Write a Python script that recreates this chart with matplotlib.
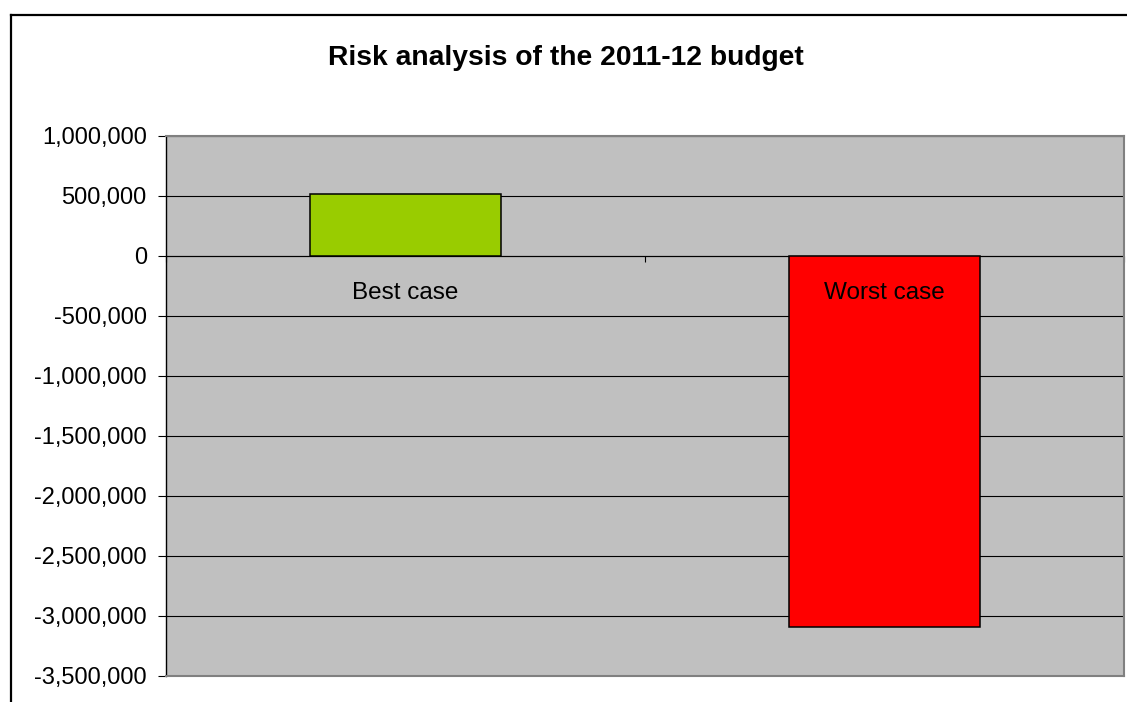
import matplotlib.pyplot as plt
from matplotlib.lines import Line2D, TICKDOWN
from matplotlib.ticker import FuncFormatter, MultipleLocator

plt.rcParams['font.family'] = ['Liberation Sans', 'DejaVu Sans']

# Budget scenarios
categories = ['Best case', 'Worst case']
values = [515000, -3095000]
bar_colors = ['#99CC00', '#FF0000']
y_min, y_max, y_step = -3500000, 1000000, 500000

fig = plt.figure(figsize=(11.27, 7.02), dpi=100)
ax = fig.add_axes([166 / 1127, 1 - 676 / 702, (1124 - 166) / 1127, (676 - 136) / 702])
ax.set_facecolor('#C0C0C0')

x = list(range(len(categories)))
ax.bar(x, values, width=0.4, color=bar_colors, edgecolor='black', linewidth=1.1, zorder=3)

ax.set_xlim(-0.5, len(categories) - 0.5)
ax.set_ylim(y_min, y_max)
ax.yaxis.set_major_locator(MultipleLocator(y_step))
ax.yaxis.set_major_formatter(FuncFormatter(lambda v, p: f'{int(v):,}'))
ax.grid(axis='y', color='black', linewidth=0.8, zorder=1)
ax.set_axisbelow(True)
ax.tick_params(axis='y', direction='out', length=5.8, width=0.8, pad=8, labelsize=17)

# category axis sits on zero, labels drawn just under it
ax.set_xticks([])
ax.axhline(0, color='black', linewidth=0.8, zorder=2)
bounds = [i - 0.5 for i in range(len(categories) + 1)]
ax.plot(bounds, [0] * len(bounds), linestyle='none', marker=TICKDOWN, markersize=4.5,
        color='black', markeredgewidth=0.8, clip_on=False, zorder=2)
for i, name in enumerate(categories):
    ax.annotate(name, (i, 0), xytext=(0, -31), textcoords='offset points',
                ha='center', va='baseline', fontsize=17.5, zorder=4)

for side in ['top', 'right', 'bottom']:
    ax.spines[side].set_color('#808080')
    ax.spines[side].set_linewidth(1.5)
ax.spines['left'].set_color('black')
ax.spines['left'].set_linewidth(1)

fig.text(566 / 1127, 1 - 58 / 702, 'Risk analysis of the 2011-12 budget',
         ha='center', va='center', fontsize=20.3, fontweight='bold')

# chart frame, open at the right and bottom edges
fig.add_artist(Line2D([11 / 1127, 11 / 1127], [0, 1 - 15 / 702], color='black',
                      linewidth=1.6, transform=fig.transFigure))
fig.add_artist(Line2D([11 / 1127, 1], [1 - 15 / 702, 1 - 15 / 702], color='black',
                      linewidth=1.6, transform=fig.transFigure))

fig.savefig('out.png', dpi=100)
